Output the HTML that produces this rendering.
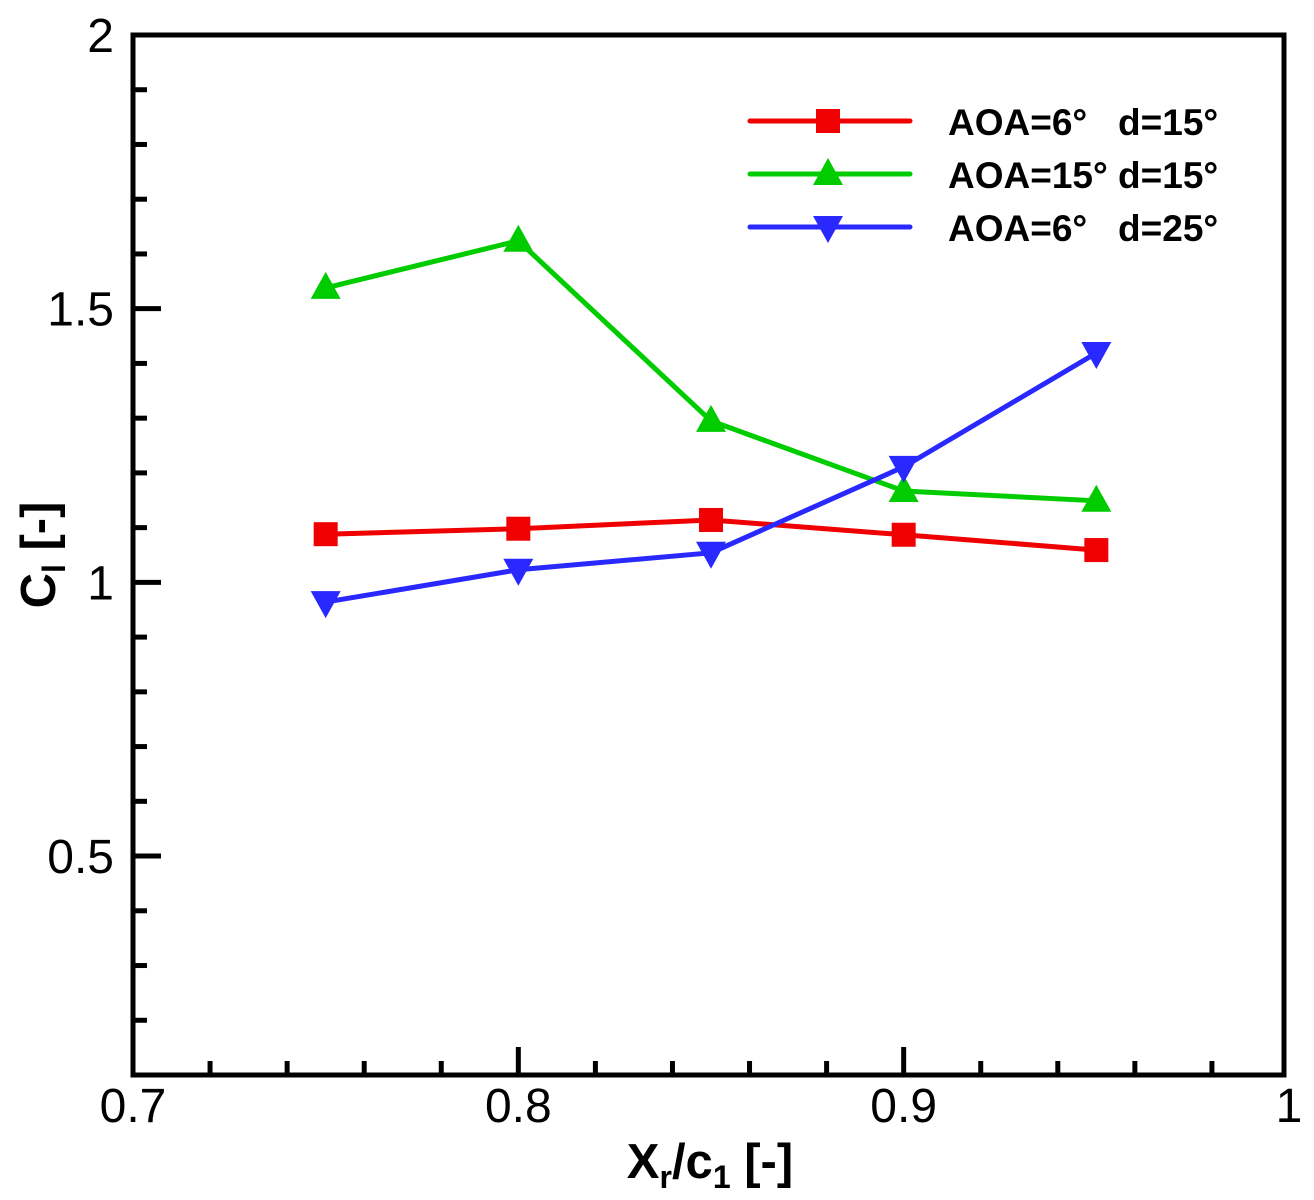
<!DOCTYPE html>
<html><head><meta charset="utf-8"><style>
html,body{margin:0;padding:0;background:#fff;}
svg{display:block;font-family:"Liberation Sans",Arial,sans-serif;}
</style></head><body>
<svg id="chart" width="1314" height="1200" xmlns="http://www.w3.org/2000/svg"></svg>
<script>
const categories=[0.75,0.8,0.85,0.9,0.95];
const seriesRed=[1.088,1.098,1.114,1.087,1.059];
const seriesGreen=[1.538,1.624,1.295,1.167,1.149];
const seriesBlue=[0.964,1.023,1.054,1.211,1.419];
const xTickLabels=["0.7","0.8","0.9","1"];
const xTickValues=[0.7,0.8,0.9,1.0];
const yTickLabels=["0.5","1","1.5","2"];
const yTickValues=[0.5,1,1.5,2];
const legendLabels=["AOA=6°   d=15°","AOA=15° d=15°","AOA=6°   d=25°"];

const L=133,R=1284,T=35,B=1075,X0=0.7,X1=1.0,Y0=0.1,Y1=2.0;
const sx=v=>L+(v-X0)/(X1-X0)*(1289-L);
const sy=v=>B-(v-Y0)/(Y1-Y0)*(B-T);
const svg=document.getElementById('chart');
const NS='http://www.w3.org/2000/svg';
function mk(tag,attrs,parent){const e=document.createElementNS(NS,tag);for(const k in attrs)e.setAttribute(k,attrs[k]);(parent||svg).appendChild(e);return e;}

for(let i=0;i<=15;i++){const v=0.7+i*0.02;const x=sx(v);if(x>R)continue;const major=i%5===0;
 const t=mk('line',{x1:x,y1:B,x2:x,y2:B-(major?28:14),stroke:'#000','stroke-width':5});
 
 }
for(let i=1;i<=19;i++){const v=0.1+i*0.1;const y=sy(v);const major=Math.abs((v*10)%5)<0.01;
 const t=mk('line',{x1:L,y1:y,x2:L+(major?28:14),y2:y,stroke:'#000','stroke-width':5});
 
 }
const fr=mk('rect',{x:L,y:T,width:R-L,height:B-T,fill:'none',stroke:'#000','stroke-width':5});



xTickValues.forEach((v,i)=>{const t=mk('text',{x:sx(v),y:1122,'font-size':48,'text-anchor':'middle'});t.textContent=xTickLabels[i];
 
 });
yTickValues.forEach((v,i)=>{const t=mk('text',{x:114,y:sy(v)+17,'font-size':48,'text-anchor':'end'});t.textContent=yTickLabels[i];
 
 });

const xt=mk('text',{x:710,y:1178,'font-size':49,'font-weight':'bold','text-anchor':'middle'});
xt.innerHTML='X<tspan font-size="32" dy="10">r</tspan><tspan dy="-10">/c</tspan><tspan font-size="32" dy="10">1</tspan><tspan dy="-10"> [-]</tspan>';


const yt=mk('text',{x:0,y:0,'font-size':49,'font-weight':'bold','text-anchor':'middle',transform:'translate(55,555) rotate(-90)'});
yt.innerHTML='C<tspan font-size="32" dy="10">l</tspan><tspan dy="-10"> [-]</tspan>';



function marker(type,x,y,color,g){
 if(type==='sq')return mk('rect',{x:x-12,y:y-12,width:24,height:24,fill:color},g);
 if(type==='up')return mk('polygon',{points:`${x},${y-16} ${x-15},${y+11} ${x+15},${y+11}`,fill:color},g);
 return mk('polygon',{points:`${x},${y+16} ${x-15},${y-11} ${x+15},${y-11}`,fill:color},g);
}
const series=[[seriesRed,'#f00000','sq','series-red'],[seriesGreen,'#00cc00','up','series-green'],[seriesBlue,'#2828ff','down','series-blue']];
series.forEach(([d,c,m,n],si)=>{
 const g=mk('g',{});
 
 
 mk('polyline',{points:d.map((v,i)=>sx(categories[i])+','+sy(v)).join(' '),fill:'none',stroke:c,'stroke-width':5,'stroke-linejoin':'round'},g);
 d.forEach((v,i)=>{const p=marker(m,sx(categories[i]),sy(v),c,g);
  
  });
 const ly=121+si*53;
 const lg=mk('g',{});
 
 
 mk('line',{x1:750,y1:ly,x2:910,y2:ly,stroke:c,'stroke-width':5,'stroke-linecap':'round'},lg);
 marker(m,828,ly,c,lg);
 const t=mk('text',{x:948,y:ly+14,'font-size':37,'font-weight':'bold'},lg);t.textContent=legendLabels[si];
 t.setAttribute('xml:space','preserve');t.style.whiteSpace='pre';
});
</script>
</body></html>
